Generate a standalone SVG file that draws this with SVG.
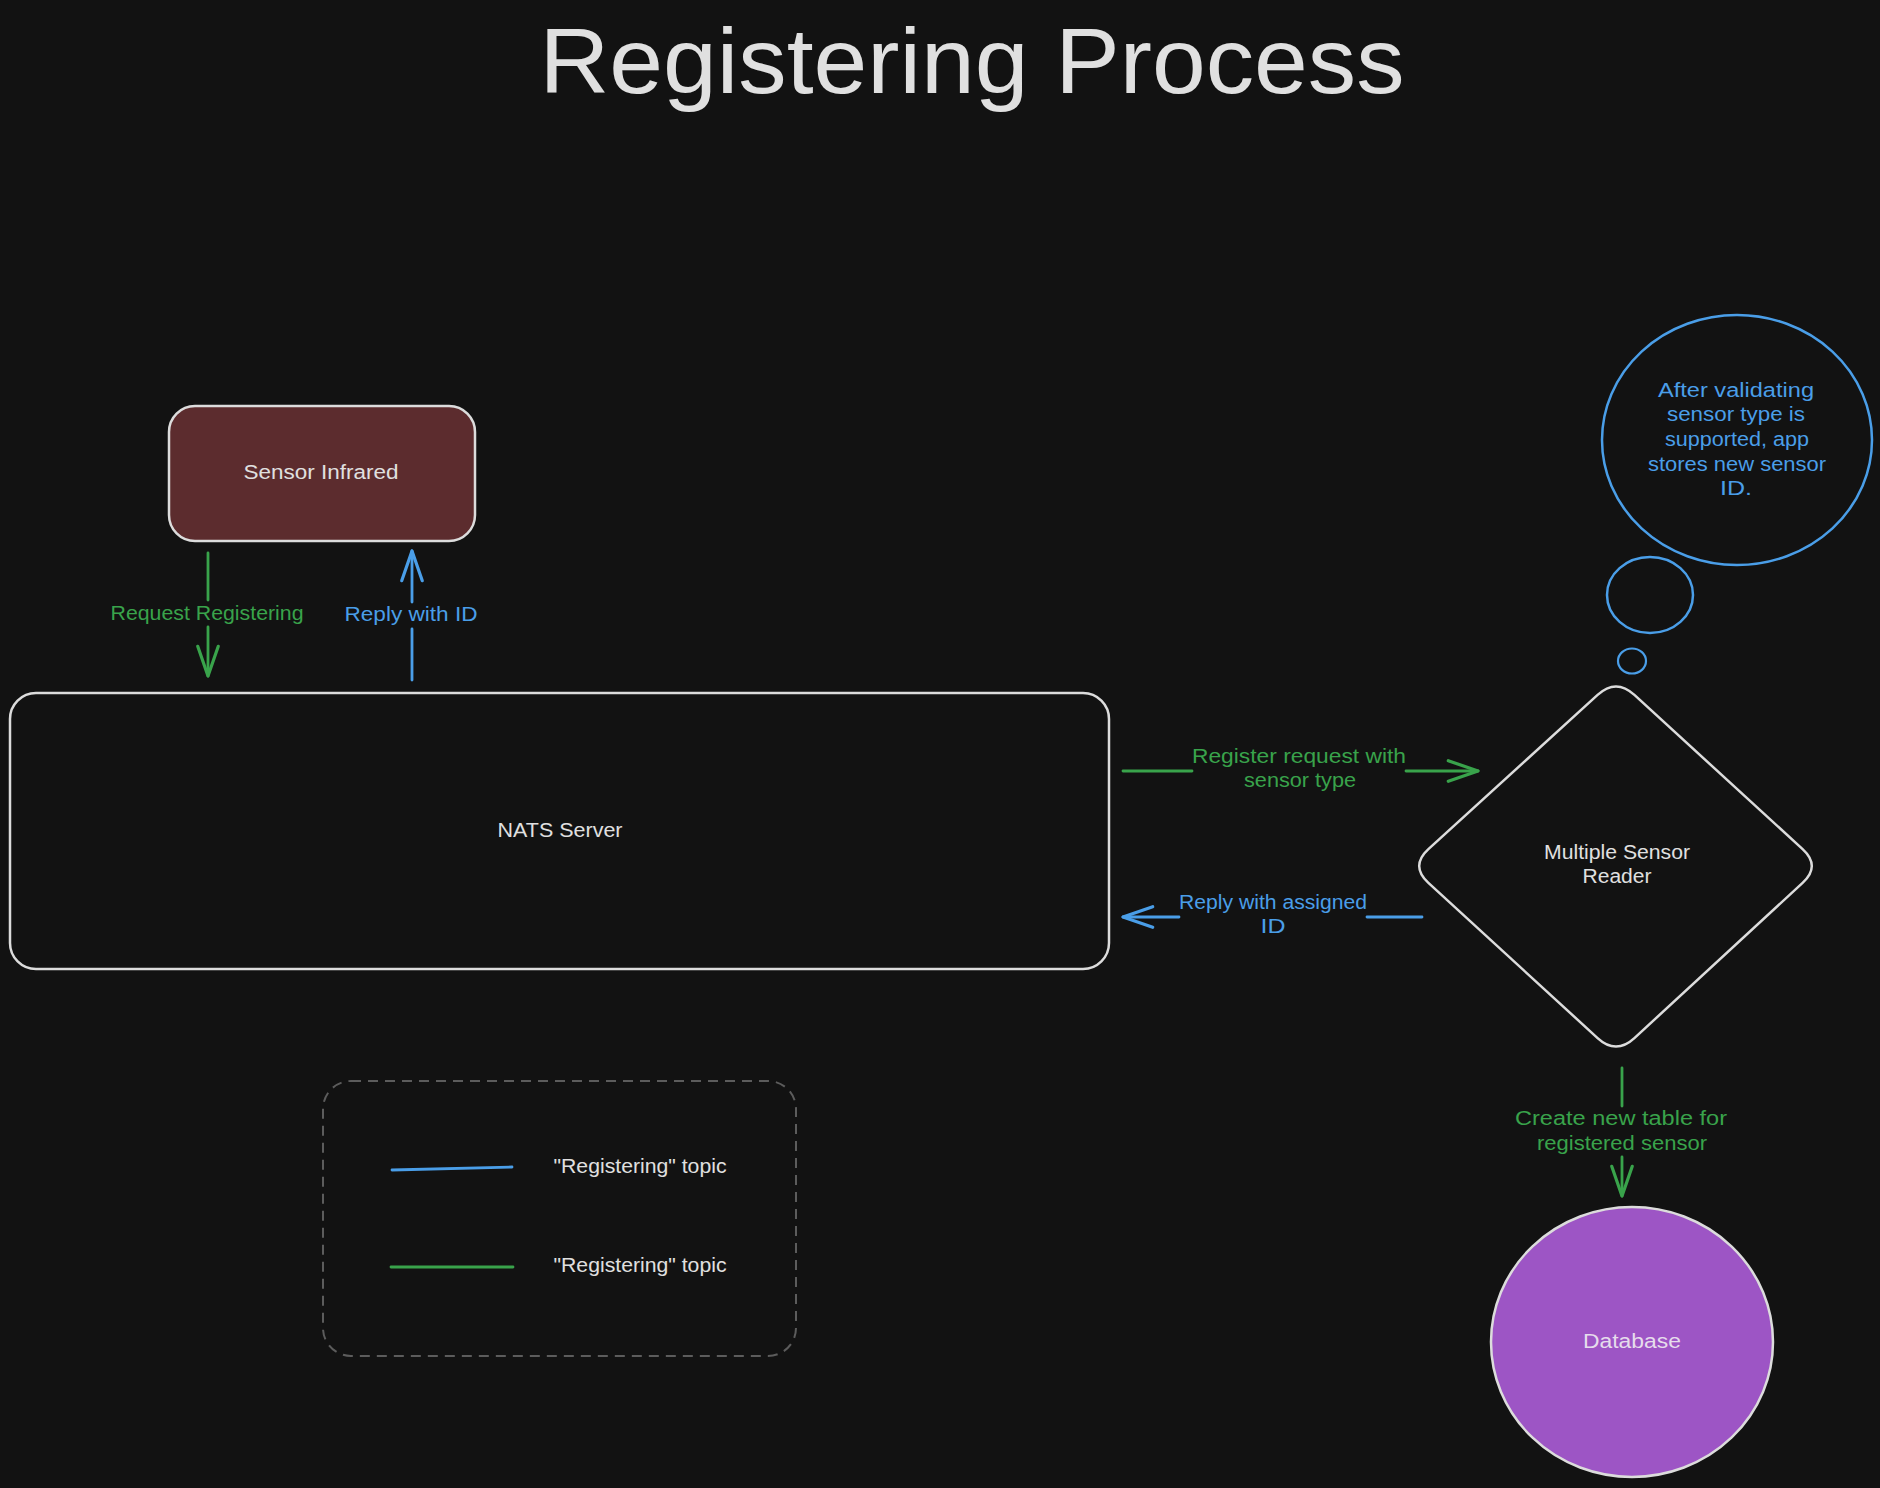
<svg xmlns="http://www.w3.org/2000/svg" width="1880" height="1488" viewBox="0 0 1880 1488">
<defs>
<style>
text{font-family:"Liberation Sans","DejaVu Sans",sans-serif;font-size:20px;text-anchor:middle}
.w{fill:#e0e0e0}
.g{fill:#39a34b}
.b{fill:#4a9ee8}
.box{fill:none;stroke:#dcdcdc;stroke-width:2.5}
.lg{fill:none;stroke:#39a34b;stroke-width:2.8;stroke-linecap:round}
.lb{fill:none;stroke:#4a9ee8;stroke-width:2.8;stroke-linecap:round}
</style>
<marker id="ag" markerUnits="userSpaceOnUse" markerWidth="40" markerHeight="40" refX="0" refY="0" viewBox="-30 -15 35 30" orient="auto" overflow="visible">
<path d="M -26 -9 L 0 0 L -26 9" fill="none" stroke="#39a34b" stroke-width="2.8" stroke-linecap="round" stroke-linejoin="round"/>
</marker>
<marker id="ab" markerUnits="userSpaceOnUse" markerWidth="40" markerHeight="40" refX="0" refY="0" viewBox="-30 -15 35 30" orient="auto" overflow="visible">
<path d="M -26 -9 L 0 0 L -26 9" fill="none" stroke="#4a9ee8" stroke-width="2.8" stroke-linecap="round" stroke-linejoin="round"/>
</marker>
</defs>
<rect x="0" y="0" width="1880" height="1488" fill="#121212"/>

<g id="title">
<text x="972" y="93" class="w" style="font-size:93px" textLength="865" lengthAdjust="spacingAndGlyphs">Registering Process</text>
</g>

<g id="sensor-infrared">
<rect x="169" y="406" width="306" height="135" rx="26" fill="#5c2c2e" stroke="#dcdcdc" stroke-width="2.5"/>
<text x="321" y="479" class="w" textLength="155" lengthAdjust="spacingAndGlyphs">Sensor Infrared</text>
</g>

<g id="nats-server">
<rect x="10" y="693" width="1099" height="276" rx="26" class="box"/>
<text x="560" y="837" class="w" textLength="125" lengthAdjust="spacingAndGlyphs">NATS Server</text>
</g>

<g id="multiple-sensor-reader">
<path d="M 1597.6 694.9 Q 1616 678 1634.4 694.9 L 1802.6 849.1 Q 1821 866 1802.6 882.9 L 1634.4 1038.1 Q 1616 1055 1597.6 1038.1 L 1428.4 882.9 Q 1410 866 1428.4 849.1 Z" class="box"/>
<text x="1617" y="859" class="w" textLength="146" lengthAdjust="spacingAndGlyphs">Multiple Sensor</text>
<text x="1617" y="883" class="w" textLength="69" lengthAdjust="spacingAndGlyphs">Reader</text>
</g>

<g id="thought-bubble">
<ellipse cx="1737" cy="440" rx="135" ry="125" fill="none" stroke="#4a9ee8" stroke-width="2.5"/>
<ellipse cx="1650" cy="595" rx="43" ry="38" fill="none" stroke="#4a9ee8" stroke-width="2.5"/>
<ellipse cx="1632" cy="661" rx="14" ry="12.5" fill="none" stroke="#4a9ee8" stroke-width="2.2"/>
<text x="1736" y="397" class="b" textLength="156" lengthAdjust="spacingAndGlyphs">After validating</text>
<text x="1736" y="421" class="b" textLength="138" lengthAdjust="spacingAndGlyphs">sensor type is</text>
<text x="1737" y="446" class="b" textLength="144" lengthAdjust="spacingAndGlyphs">supported, app</text>
<text x="1737" y="471" class="b" textLength="178" lengthAdjust="spacingAndGlyphs">stores new sensor</text>
<text x="1736" y="495" class="b" textLength="32" lengthAdjust="spacingAndGlyphs">ID.</text>
</g>

<g id="database">
<ellipse cx="1632" cy="1342" rx="141" ry="135" fill="#9d55c5" stroke="#dcdcdc" stroke-width="2.5"/>
<text x="1632" y="1348" style="fill:#e6dcec" textLength="98" lengthAdjust="spacingAndGlyphs">Database</text>
</g>

<g id="legend">
<rect x="323" y="1081" width="473" height="275" rx="28" fill="none" stroke="#5c5c5c" stroke-width="2" stroke-dasharray="10 7"/>
<line x1="392" y1="1170" x2="512" y2="1167" class="lb" stroke-width="3.5"/>
<line x1="391" y1="1267" x2="513" y2="1267" class="lg" stroke-width="3.5"/>
<text x="640" y="1173" class="w" textLength="173" lengthAdjust="spacingAndGlyphs">"Registering" topic</text>
<text x="640" y="1272" class="w" textLength="173" lengthAdjust="spacingAndGlyphs">"Registering" topic</text>
</g>

<g id="connectors">
<line x1="208" y1="553" x2="208" y2="600" class="lg"/>
<line x1="208" y1="627" x2="208" y2="676" class="lg" marker-end="url(#ag)"/>
<text x="207" y="620" class="g" textLength="193" lengthAdjust="spacingAndGlyphs">Request Registering</text>

<line x1="412" y1="680" x2="412" y2="629" class="lb"/>
<line x1="412" y1="602" x2="412" y2="551" class="lb" marker-end="url(#ab)"/>
<text x="411" y="621" class="b" textLength="133" lengthAdjust="spacingAndGlyphs">Reply with ID</text>

<line x1="1123" y1="771" x2="1192" y2="771" class="lg" stroke-width="3.5"/>
<line x1="1406" y1="771" x2="1478" y2="771" class="lg" stroke-width="3.5" marker-end="url(#ag)"/>
<text x="1299" y="763" class="g" textLength="214" lengthAdjust="spacingAndGlyphs">Register request with</text>
<text x="1300" y="787" class="g" textLength="112" lengthAdjust="spacingAndGlyphs">sensor type</text>

<line x1="1422" y1="917" x2="1367" y2="917" class="lb" stroke-width="3.5"/>
<line x1="1179" y1="917" x2="1123" y2="917" class="lb" stroke-width="3.5" marker-end="url(#ab)"/>
<text x="1273" y="909" class="b" textLength="188" lengthAdjust="spacingAndGlyphs">Reply with assigned</text>
<text x="1273" y="933" class="b" textLength="25" lengthAdjust="spacingAndGlyphs">ID</text>

<line x1="1622" y1="1068" x2="1622" y2="1106" class="lg"/>
<line x1="1622" y1="1157" x2="1622" y2="1196" class="lg" marker-end="url(#ag)"/>
<text x="1621" y="1125" class="g" textLength="212" lengthAdjust="spacingAndGlyphs">Create new table for</text>
<text x="1622" y="1150" class="g" textLength="170" lengthAdjust="spacingAndGlyphs">registered sensor</text>
</g>
</svg>
